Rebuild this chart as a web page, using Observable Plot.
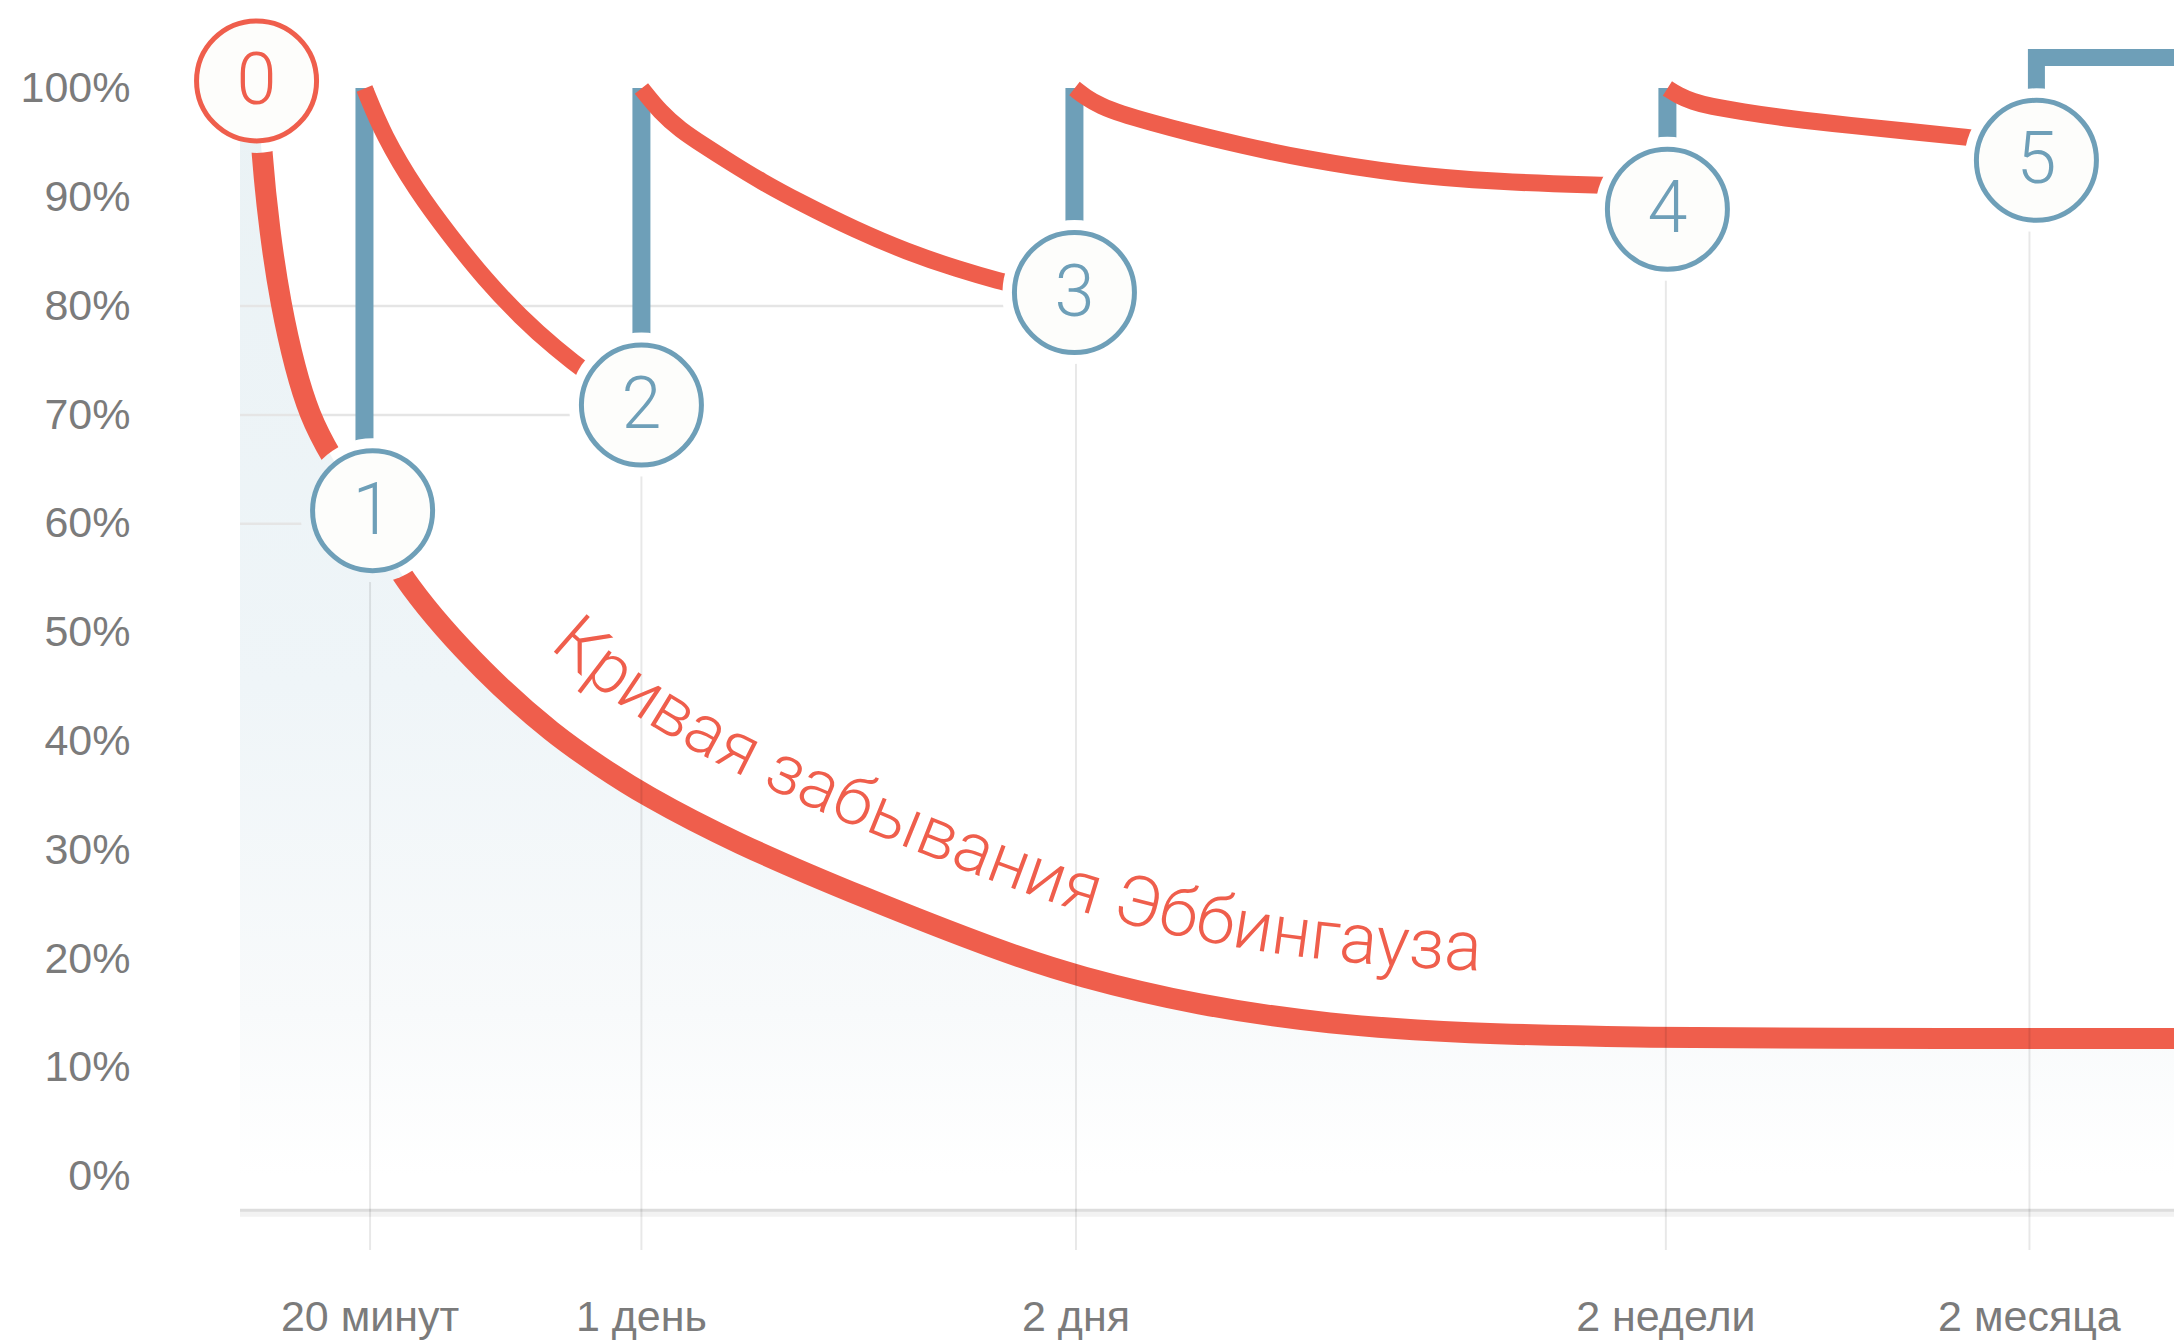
<!DOCTYPE html>
<html>
<head>
<meta charset="utf-8">
<script src="https://cdn.jsdelivr.net/npm/d3@7"></script>
<script src="https://cdn.jsdelivr.net/npm/@observablehq/plot@0.6"></script>
<style>
html, body { margin: 0; padding: 0; background: #ffffff; }
#chart svg { display: block; }
</style>
</head>
<body>
<div id="chart"></div>
<script>
// ---------- data ----------
// y axis ticks (percent retained)
const yTicks = [0, 10, 20, 30, 40, 50, 60, 70, 80, 90, 100];
// x axis: review moments (position on a progress axis 0..100) and their labels
const tickLabels = ["20 минут", "1 день", "2 дня", "2 недели", "2 месяца"];
const tickPositions = [6.7, 20.73, 43.2, 73.7, 92.5];

// Ebbinghaus forgetting curve (no reviews)
const forgetX = [0.93, 1.09, 1.50, 2.07, 2.84, 3.57, 4.55, 6.62, 8.38, 12.67, 16.29, 18.61, 20.73, 25.49, 32.32, 39.19, 43.28, 49.48, 56.31, 63.19, 72.39, 80.66, 100];
const forgetY = [100, 94.0, 86.9, 80.2, 74.1, 70.0, 66.5, 60.75, 54.6, 46.05, 40.5, 37.68, 35.2, 30.7, 25.55, 20.77, 18.38, 15.72, 13.97, 13.14, 12.78, 12.68, 12.68];

// decay after each review
const decay1X = [6.41, 7.39, 9.10, 10.86, 12.67, 14.48, 16.29, 18.10, 19.39];
const decay1Y = [100, 95.7, 90.6, 86.4, 82.4, 79.0, 76.1, 73.6, 72.1];
const decay2X = [20.73, 21.72, 22.75, 23.89, 25.34, 26.89, 28.96, 31.80, 34.44, 37.07, 39.45, 39.81];
const decay2Y = [100, 97.8, 96.2, 94.85, 93.2, 91.5, 89.5, 87.0, 85.0, 83.4, 82.2, 82.1];
const decay3X = [43.12, 43.69, 44.47, 45.50, 47.05, 49.12, 51.71, 54.81, 59.98, 65.10, 70.32, 70.84];
const decay3Y = [100, 99.2, 98.4, 97.7, 96.9, 95.9, 94.8, 93.6, 92.1, 91.4, 91.1, 91.1];
const decay4X = [73.78, 74.35, 75.08, 76.01, 77.56, 80.14, 83.25, 86.35, 89.35, 89.71];
const decay4Y = [100, 99.35, 98.8, 98.35, 97.9, 97.2, 96.6, 96.05, 95.5, 95.4];

// numbered markers
const circleLabels = [0, 1, 2, 3, 4, 5];
const circleX = [0.83, 6.83, 20.73, 43.12, 73.78, 92.86];
const circleY = [100.7, 61.2, 70.9, 81.25, 88.9, 93.4];

// review jumps back to 100%
const barX = [6.41, 20.73, 43.12, 73.78];
const barTop = 100;
// last review step (goes up and continues right)
const stepX = [92.86, 92.86, 100];
const stepY = [93.4, 102.85, 102.85];

// short horizontal guides
const guideY = [80, 70, 60];
const guideEnd = [43.12, 20.73, 6.83];

// baseline & grid extents (percent units)
const baseLevel = -3.1;
const gridBottom = -6.8;

const annotationText = "Кривая забывания Эббингауза";
const annotationStartX = 15.9;

// ---------- styles ----------
const RED = "#ef5e4c";
const BLUE = "#6e9fb8";
const LABEL = "#7b7b7b";
const FONT = "'Liberation Sans', Arial, Helvetica, sans-serif";
const NUMFONT = "Roboto, 'Liberation Sans', Arial, sans-serif";

// ---------- tables ----------
const forgetting = forgetX.map((x, i) => ({x, y: forgetY[i]}));
const shade = [{x: 0, y: 100}, ...forgetting];
const decay = [[decay1X, decay1Y], [decay2X, decay2Y], [decay3X, decay3Y], [decay4X, decay4Y]]
  .flatMap(([xs, ys], k) => xs.map((x, i) => ({k, x, y: ys[i]})));
const circles = circleLabels.map((n, i) => ({n, x: circleX[i], y: circleY[i]}));
const bars = barX.map((x, i) => ({x, y1: circleY[i + 1], y2: barTop}));
const step = stepX.map((x, i) => ({x, y: stepY[i]}));
const guides = guideY.map((y, i) => ({y, x2: guideEnd[i]}));
const grid = tickPositions.map((x, i) => ({x, y1: circleY[i + 1]}));

const chart = Plot.plot({
  width: 2174,
  height: 1341,
  marginLeft: 240,
  marginRight: 0,
  marginTop: 88,
  marginBottom: 165,
  style: {fontFamily: FONT, background: "transparent", overflow: "visible"},
  x: {domain: [0, 100]},
  y: {domain: [0, 100]},
  marks: [
    Plot.areaY(shade, {x: "x", y: "y", fill: "url(#shade)", curve: "basis"}),
    Plot.ruleY(guides, {y: "y", x1: 0, x2: "x2", stroke: "#e5e5e5", strokeWidth: 2.5}),
    Plot.ruleY([baseLevel], {x1: 0, x2: 100, stroke: "#f2f2f2", strokeWidth: 7, dy: 3}),
    Plot.ruleY([baseLevel], {x1: 0, x2: 100, stroke: "#dddddd", strokeWidth: 3}),
    Plot.line(forgetting, {x: "x", y: "y", stroke: RED, strokeWidth: 21, curve: "basis", strokeLinecap: "butt"}),
    Plot.ruleX(bars, {x: "x", y1: "y1", y2: "y2", stroke: BLUE, strokeWidth: 18}),
    Plot.line(step, {x: "x", y: "y", stroke: BLUE, strokeWidth: 17, strokeLinejoin: "miter", strokeMiterlimit: 10, strokeLinecap: "butt"}),
    Plot.line(decay, {x: "x", y: "y", z: "k", stroke: RED, strokeWidth: 17, curve: "basis", strokeLinecap: "butt"}),
    Plot.ruleX(grid, {x: "x", y1: "y1", y2: gridBottom, stroke: "#000000", strokeOpacity: 0.09, strokeWidth: 2}),
    Plot.dot(circles, {x: "x", y: "y", r: 60, fill: "#fdfdfb", stroke: BLUE, strokeWidth: 5, filter: d => d.n > 0}),
    Plot.dot(circles, {x: "x", y: "y", r: 60, fill: "#fdfdfb", stroke: RED, strokeWidth: 5, filter: d => d.n === 0}),
    Plot.text(circles, {x: "x", y: "y", text: d => String(d.n), fontSize: 72, fontFamily: NUMFONT, fontWeight: 300, fill: BLUE, filter: d => d.n > 0}),
    Plot.text(circles, {x: "x", y: "y", text: d => String(d.n), fontSize: 72, fontFamily: NUMFONT, fontWeight: 300, fill: RED, filter: d => d.n === 0}),
    Plot.axisY({ticks: yTicks, tickFormat: d => d + "%", tickSize: 0, tickPadding: 110, fontSize: 43, color: LABEL, label: null}),
    Plot.axisX({ticks: tickPositions, tickFormat: d => tickLabels[tickPositions.indexOf(d)], tickSize: 0, tickPadding: 124, fontSize: 43, color: LABEL, label: null})
  ]
});

document.getElementById("chart").appendChild(chart);

// gradient, halo mask and curved annotation, positioned via Plot's scales
const xs = chart.scale("x"), ys = chart.scale("y");
const svg = d3.select(chart);
const W = +svg.attr("width"), H = +svg.attr("height");
const defs = svg.insert("defs", ":first-child");
const grad = defs.append("linearGradient").attr("id", "shade")
  .attr("gradientUnits", "userSpaceOnUse")
  .attr("x1", 0).attr("x2", 0)
  .attr("y1", ys.apply(100)).attr("y2", ys.apply(0));
[[0, "#eaf2f5"], [0.55, "#eff5f8"], [0.85, "#f8fafb"], [1, "#ffffff"]]
  .forEach(([o, c]) => grad.append("stop").attr("offset", o).attr("stop-color", c));

// lines stop short of each numbered circle
const mask = defs.append("mask").attr("id", "halo").attr("maskUnits", "userSpaceOnUse")
  .attr("x", -50).attr("y", -50).attr("width", W + 100).attr("height", H + 100);
mask.append("rect").attr("x", -50).attr("y", -50).attr("width", W + 100).attr("height", H + 100).attr("fill", "white");
circles.forEach(c => mask.append("circle")
  .attr("cx", xs.apply(c.x)).attr("cy", ys.apply(c.y)).attr("r", 72).attr("fill", "black"));
svg.selectAll('g[aria-label="line"], g[aria-label="rule"]').attr("mask", "url(#halo)");

// annotation along the forgetting curve
const pts = forgetting.map(d => [xs.apply(d.x), ys.apply(d.y)]);
const tmp = svg.append("path").attr("fill", "none").attr("d", d3.line().curve(d3.curveBasis)(pts));
const node = tmp.node();
const L = node.getTotalLength();
const OFFSET = 62;
const startPx = xs.apply(annotationStartX);
const offPts = [];
for (let s = 0; s <= L; s += 3) {
  const p = node.getPointAtLength(s);
  const a = node.getPointAtLength(Math.max(0, s - 2));
  const b = node.getPointAtLength(Math.min(L, s + 2));
  const dx = b.x - a.x, dy = b.y - a.y, len = Math.hypot(dx, dy) || 1;
  const ox = p.x + dy / len * OFFSET, oy = p.y - dx / len * OFFSET;
  if (ox >= startPx || offPts.length) offPts.push([ox, oy]);
}
tmp.remove();
defs.append("path").attr("id", "annoPath").attr("d", d3.line()(offPts));
svg.append("text")
  .attr("font-family", NUMFONT)
  .attr("font-weight", 300)
  .attr("font-size", 70)
  .attr("text-anchor", "start")
  .attr("fill", RED)
  .append("textPath")
  .attr("href", "#annoPath")
  .attr("startOffset", 0)
  .text(annotationText);
</script>
</body>
</html>
